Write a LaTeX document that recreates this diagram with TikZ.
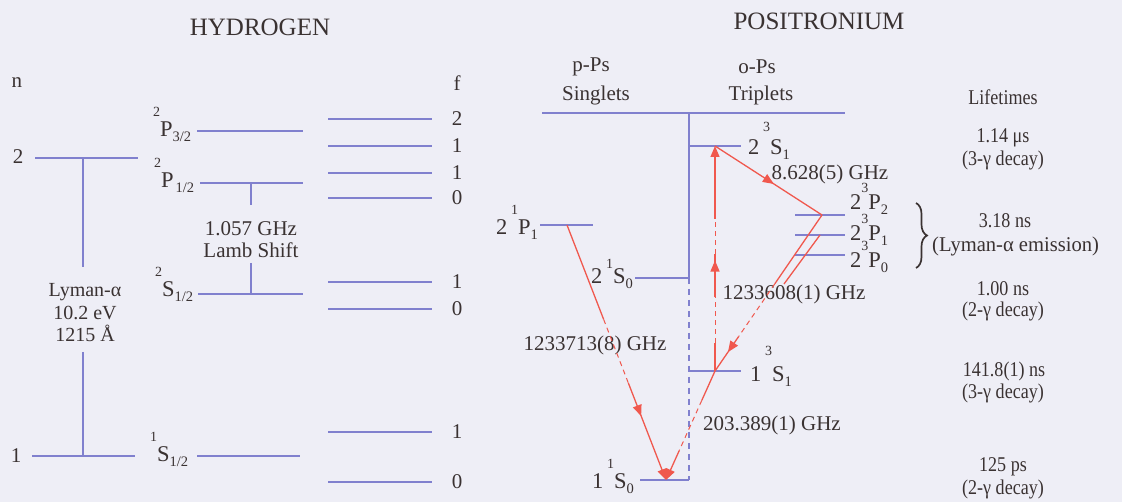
\documentclass[tikz,border=0pt]{standalone}
\usepackage{fontspec}
\usepackage{graphicx}
\setmainfont{Liberation Serif}
\usetikzlibrary{calc,arrows.meta,decorations.markings,decorations.pathreplacing}
\definecolor{bg}{RGB}{238,238,246}
\definecolor{lvlc}{RGB}{128,128,206}
\definecolor{rd}{RGB}{240,88,78}
\definecolor{ink}{RGB}{58,50,50}
\newcommand\upi[2][20pt]{\raisebox{#1}{\fontsize{14}{14}\selectfont #2}}
\newcommand\dni[1]{\raisebox{-5pt}{\fontsize{14.5}{14}\selectfont #1}}
\newcommand\cond[1]{\scalebox{0.86}[1]{#1}}
\begin{document}
\begin{tikzpicture}[x=1pt,y=-1pt,
  lvl/.style={draw=lvlc, line width=1.1pt},
  lvldash/.style={lvl, dash pattern=on 6pt off 5pt},
  txt/.style={text=ink, inner sep=0pt, font=\fontsize{21}{23}\selectfont},
  ttl/.style={txt, font=\fontsize{25}{28}\selectfont},
  lbl/.style={txt, anchor=base west, font=\fontsize{22.5}{24}\selectfont},
  life/.style={text=ink, inner sep=0pt, font=\fontsize{21}{23}\selectfont},
  redln/.style={color=rd, line width=1.3pt},
  reddash/.style={color=rd, line width=1pt, dash pattern=on 5pt off 4pt},
  tipend/.style={-{Triangle[length=11pt,width=9pt]}},
  midtip/.style={postaction={decorate}, decoration={markings, mark=at position #1 with {\arrow{Triangle[length=11pt,width=9pt]}}}},
]
\fill[bg] (0,0) rectangle (1122,502);
\useasboundingbox (0,0) rectangle (1122,502);

% ---------------- HYDROGEN ----------------
\node[ttl] (hyd) at (260,27) {HYDROGEN};
\node[txt] (nlab) at (17,83) {n};
\node[txt] (n2lab) at (18,157) {2};
\node[txt] (n1lab) at (16,456) {1};

\coordinate (n2a) at (35,158); \coordinate (n2b) at (138,158);
\coordinate (n1a) at (32,456); \coordinate (n1b) at (135,456);
\draw[lvl] (n2a) -- (n2b);
\draw[lvl] (n1a) -- (n1b);
\coordinate (lyTop) at (83,158); \coordinate (lyA) at (83,267);
\coordinate (lyB) at (83,352); \coordinate (lyBot) at (83,456);
\draw[lvl] (lyTop) -- (lyA);
\draw[lvl] (lyB) -- (lyBot);
\node[txt,font=\fontsize{20}{21}\selectfont] (ly1) at (85,292) {Lyman-α};
\node[txt,font=\fontsize{20}{21}\selectfont] (ly2) at (85,313) {10.2 eV};
\node[txt,font=\fontsize{20}{21}\selectfont] (ly3) at (85,333) {1215 Å};

\coordinate (p32a) at (197,131); \coordinate (p32b) at (303,131);
\coordinate (p12a) at (200,183); \coordinate (p12b) at (303,183);
\coordinate (s12a) at (198,294); \coordinate (s12b) at (303,294);
\coordinate (h1sa) at (197,456); \coordinate (h1sb) at (300,456);
\draw[lvl] (p32a) -- (p32b);
\draw[lvl] (p12a) -- (p12b);
\draw[lvl] (s12a) -- (s12b);
\draw[lvl] (h1sa) -- (h1sb);
\node[lbl] (lp32) at (153,137) {\upi{2}P\dni{3/2}};
\node[lbl] (lp12) at (154,188) {\upi{2}P\kern2pt\dni{1/2}};
\node[lbl] (ls12) at (155,297) {\upi{2}S\dni{1/2}};
\node[lbl] (lh1s) at (150,461) {\upi{1}S\dni{1/2}};

\coordinate (lsA) at (251,183); \coordinate (lsB) at (251,205);
\coordinate (lsC) at (251,263); \coordinate (lsD) at (251,294);
\draw[lvl] (lsA) -- (lsB);
\draw[lvl] (lsC) -- (lsD);
\node[txt] (lamb1) at (251,229) {1.057 GHz};
\node[txt] (lamb2) at (251,250) {Lamb Shift};

\node[txt] (flab) at (457,83) {f};
\foreach \yy/\vv [count=\i] in {119/2,146/1,173/1,198/0,282/1,309/0,432/1,482/0}{
  \coordinate (fa\i) at (328,\yy); \coordinate (fb\i) at (432,\yy);
  \draw[lvl] (fa\i) -- (fb\i);
  \node[txt] (fl\i) at (457,\yy) {\vv};
}

% ---------------- POSITRONIUM ----------------
\node[ttl] (pos) at (819,21) {POSITRONIUM};
\node[txt] (pps) at (591,67) {p-Ps};
\node[txt] (sing) at (596,95) {Singlets};
\node[txt] (ops) at (757,67) {o-Ps};
\node[txt] (trip) at (761,95) {Triplets};

\coordinate (topL) at (542,113); \coordinate (topR) at (845,113);
\draw[lvl] (topL) -- (topR);
\coordinate (divT) at (689,113); \coordinate (divM) at (689,278); \coordinate (divB) at (689,480);
\draw[lvl] (divT) -- (divM);
\draw[lvldash] (divM) -- (divB);

\coordinate (p21l) at (540,225); \coordinate (p21r) at (593,225); \coordinate (p21m) at (567,225);
\coordinate (s20l) at (635,278);
\coordinate (s10l) at (640,480); \coordinate (s10m) at (666,480);
\coordinate (s3l) at (689,146); \coordinate (s3r) at (741,146); \coordinate (s3m) at (715,146);
\coordinate (s31l) at (689,371); \coordinate (s31r) at (741,371); \coordinate (s31m) at (715,371);
\coordinate (pJ2l) at (795,215); \coordinate (pJ2r) at (845,215); \coordinate (pJ2m) at (822,215);
\coordinate (pJ1l) at (795,235); \coordinate (pJ1r) at (845,235); \coordinate (pJ1m) at (820,235);
\coordinate (pJ0l) at (795,255); \coordinate (pJ0r) at (845,255);
\coordinate (a4e) at (784,284);
\draw[lvl] (p21l) -- (p21r);
\draw[lvl] (s20l) -- (divM);
\draw[lvl] (s10l) -- (divB);
\draw[lvl] (s3l) -- (s3r);
\draw[lvl] (s31l) -- (s31r);
\draw[lvl] (pJ2l) -- (pJ2r);
\draw[lvl] (pJ1l) -- (pJ1r);
\draw[lvl] (pJ0l) -- (pJ0r);

\node[lbl] (lp21) at (496,235) {2\,\upi{1}P\dni{1}};
\node[lbl] (ls20) at (591,284) {2\,\upi[15pt]{1}S\dni{0}};
\node[lbl] (ls10) at (592,488) {1\,\upi{1}S\dni{0}};
\node[lbl] (ls3) at (748,155) {2\,\upi[23pt]{3}S\dni{1}};
\node[lbl] (ls31) at (750,382) {1\,\upi[26pt]{3}S\dni{1}};
\node[lbl] (lpJ2) at (850,210) {2\upi[17pt]{3}P\dni{2}};
\node[lbl] (lpJ1) at (850,241) {2\upi[17pt]{3}P\dni{1}};
\node[lbl] (lpJ0) at (850,268) {2\upi[17pt]{3}P\dni{0}};

\node[txt] (f1) at (830,174) {8.628(5) GHz};
\node[txt] (f2) at (794,294) {1233608(1) GHz};
\node[txt] (f3) at (772,425) {203.389(1) GHz};
\node[txt] (f4) at (595,345) {1233713(8) GHz};

% red transitions
% 2^1P_1 -> 1^1S_0
\draw[redln] (p21m) -- ($(p21m)!0.37!(s10m)$);
\draw[reddash] ($(p21m)!0.37!(s10m)$) -- ($(p21m)!0.62!(s10m)$);
\draw[redln, tipend, midtip=0.34] ($(p21m)!0.62!(s10m)$) -- (s10m);
% 2^3S_1 -> 2^3P_2
\draw[redln, midtip=0.55] (s3m) -- (pJ2m);
% 2^3P_2 -> 1^3S_1
\draw[redln] (pJ2m) -- ($(pJ2m)!0.44!(s31m)$);
\draw[reddash] ($(pJ2m)!0.44!(s31m)$) -- ($(pJ2m)!0.78!(s31m)$);
\draw[redln, midtip=0.45] ($(pJ2m)!0.78!(s31m)$) -- (s31m);
% from 2^3P_1
\draw[redln] (pJ1m) -- (a4e);
% 1^3S_1 -> 1^1S_0
\draw[redln] (s31m) -- ($(s31m)!0.27!(s10m)$);
\draw[reddash] ($(s31m)!0.27!(s10m)$) -- ($(s31m)!0.73!(s10m)$);
\draw[redln, tipend] ($(s31m)!0.73!(s10m)$) -- (s10m);
% 1^3S_1 -> 2^3S_1
\draw[redln] (s31m) -- ($(s31m)!0.126!(s3m)$);
\draw[reddash] ($(s31m)!0.126!(s3m)$) -- ($(s31m)!0.327!(s3m)$);
\draw[redln, midtip=0.85] ($(s31m)!0.327!(s3m)$) -- ($(s31m)!0.52!(s3m)$);
\draw[reddash] ($(s31m)!0.52!(s3m)$) -- ($(s31m)!0.677!(s3m)$);
\draw[redln, tipend] ($(s31m)!0.677!(s3m)$) -- (s3m);

% brace
\coordinate (bt) at (916,203); \coordinate (bb) at (916,268);
\draw[ink, line width=1.7pt, decorate, decoration={brace, amplitude=11pt}] (bt) -- (bb);

% lifetimes
\node[life] (lt) at (1003,97) {\cond{Lifetimes}};
\node[life] (lt1a) at (1003,138) {\cond{1.14 μs}};
\node[life] (lt1b) at (1003,160) {\cond{(3-γ decay)}};
\node[life] (lt2a) at (1005,221) {\cond{3.18 ns}};
\node[life, anchor=west] (lt2b) at (932,246) {\scalebox{0.98}[1]{(Lyman-α emission)}};
\node[life] (lt3a) at (1003,289) {\cond{1.00 ns}};
\node[life] (lt3b) at (1003,311) {\cond{(2-γ decay)}};
\node[life] (lt4a) at (1004,371) {\cond{141.8(1) ns}};
\node[life] (lt4b) at (1003,393) {\cond{(3-γ decay)}};
\node[life] (lt5a) at (1003,467) {\cond{125 ps}};
\node[life] (lt5b) at (1003,489) {\cond{(2-γ decay)}};
\end{tikzpicture}
\end{document}
